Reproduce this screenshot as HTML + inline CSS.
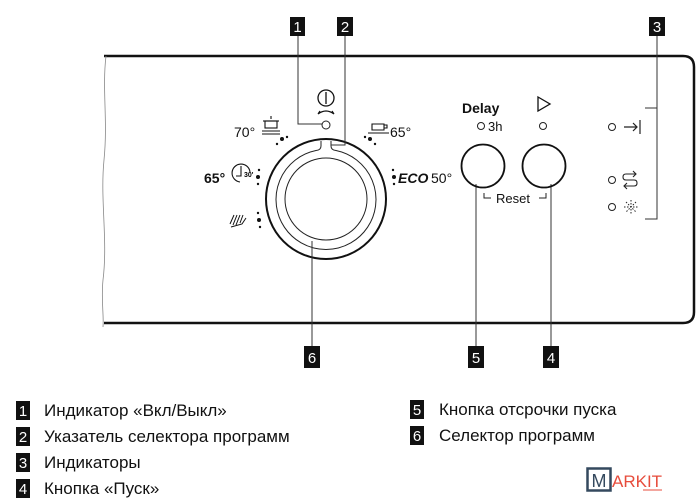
<!DOCTYPE html>
<html><head><meta charset="utf-8"><style>
html,body{margin:0;padding:0;background:#fff;}
svg{display:block}
text{font-family:"Liberation Sans",Arial,sans-serif;}
</style></head><body>
<svg width="700" height="503" viewBox="0 0 700 503" xmlns="http://www.w3.org/2000/svg">
<!-- panel -->
<path d="M104 56 H683 Q694 56 694 67 V312 Q694 323 683 323 H104" fill="none" stroke="#111" stroke-width="2.5"/>
<path d="M106 56 C102 90 108 120 104 160 C100 200 108 240 103 280 C101 300 104 315 103 327" fill="none" stroke="#888" stroke-width="0.8"/>
<!-- dial -->
<circle cx="326" cy="199" r="60" fill="none" stroke="#111" stroke-width="2"/>
<path d="M321 141 V146 Q321 150 316 150.5 A50 50 0 1 0 336 150.5 Q331 150 331 146 V141" fill="none" stroke="#222" stroke-width="1"/>
<circle cx="326" cy="199" r="41" fill="none" stroke="#222" stroke-width="1"/>
<!-- leaders -->
<g stroke="#333" stroke-width="1" fill="none">
<path d="M298 35 V124 H322"/>
<path d="M345 35 V145 H331"/>
<path d="M312 241 V346"/>
<path d="M476 184 V346"/>
<path d="M551 184 V346"/>
<path d="M657 36 V219 H645 M657 108 H645"/>
</g>
<circle cx="326" cy="125" r="4" fill="#fff" stroke="#222" stroke-width="1"/>
<!-- power symbol -->
<circle cx="326" cy="98" r="8" fill="none" stroke="#111" stroke-width="1.3"/>
<line x1="326" y1="92" x2="326" y2="104" stroke="#111" stroke-width="1.3"/>
<path d="M318 114 Q326 108 334 114 M318 114 l2 -3 M334 114 l-2 -3" fill="none" stroke="#111" stroke-width="1.2"/>
<!-- boxes -->
<g font-size="15" fill="#fff" text-anchor="middle">
<rect x="290" y="17" width="15" height="19" fill="#111"/><text x="297.5" y="32">1</text>
<rect x="337" y="17" width="16" height="19" fill="#111"/><text x="345" y="32">2</text>
<rect x="649" y="17" width="16" height="19" fill="#111"/><text x="657" y="32">3</text>
<rect x="304" y="346" width="16" height="22" fill="#111"/><text x="312" y="363">6</text>
<rect x="468" y="346" width="16" height="22" fill="#111"/><text x="476" y="363">5</text>
<rect x="543" y="346" width="16" height="22" fill="#111"/><text x="551" y="363">4</text>
</g>
<!-- dial labels -->
<g font-size="14" fill="#111">
<text x="234" y="137">70°</text>
<text x="390" y="137">65°</text>
<text x="204" y="183" font-weight="bold">65°</text>
<text x="398" y="183" font-weight="bold" font-style="italic">ECO</text>
<text x="431" y="183">50°</text>
</g>
<!-- pot icon -->
<g fill="none" stroke="#111" stroke-width="1.1">
<rect x="265" y="121" width="12" height="7"/><line x1="263" y1="121" x2="279" y2="121"/><line x1="271" y1="116" x2="271" y2="119"/>
<line x1="262" y1="131" x2="280" y2="131"/><line x1="262" y1="134" x2="280" y2="134"/>
<path d="M372 124 h12 v6 h-12 z M384 125 h3 v3 h-3"/><line x1="368" y1="133" x2="389" y2="133"/>
<path d="M250 172 A9 9 0 1 0 240 182" /><path d="M241 166 V176 H236"/>
</g>
<text x="244" y="177" font-size="7" font-weight="bold">30'</text>
<!-- shower -->
<g stroke="#111" stroke-width="1" fill="none">
<path d="M234 215 l-4 9 M237 215 l-4 10 M240 215 l-4 10 M243 215 l-3 8 M231 227 l11 -3 l4 -6"/>
</g>
<!-- dots -->
<g fill="#111">
<circle cx="282" cy="139" r="2"/><circle cx="277" cy="144" r="1.2"/><circle cx="287" cy="137" r="1.2"/>
<circle cx="370" cy="139" r="2"/><circle cx="365" cy="137" r="1.2"/><circle cx="375" cy="144" r="1.2"/>
<circle cx="258" cy="177" r="2"/><circle cx="259" cy="170" r="1.2"/><circle cx="258" cy="184" r="1.2"/>
<circle cx="394" cy="177" r="2"/><circle cx="393" cy="170" r="1.2"/><circle cx="394" cy="184" r="1.2"/>
<circle cx="259" cy="220" r="2"/><circle cx="258" cy="213" r="1.2"/><circle cx="260" cy="227" r="1.2"/>
</g>
<!-- buttons -->
<circle cx="483" cy="166" r="21.5" fill="none" stroke="#111" stroke-width="1.8"/>
<circle cx="544" cy="166" r="21.5" fill="none" stroke="#111" stroke-width="1.8"/>
<text x="462" y="113" font-size="14" font-weight="bold" fill="#111">Delay</text>
<circle cx="481" cy="126" r="3.5" fill="none" stroke="#222"/>
<text x="488" y="131" font-size="13" fill="#111">3h</text>
<path d="M538 97 L550 104 L538 111 Z" fill="none" stroke="#111" stroke-width="1.3"/>
<circle cx="543" cy="126" r="3.5" fill="none" stroke="#222"/>
<path d="M484 193 v5 h7 M546 193 v5 h-7" fill="none" stroke="#222"/>
<text x="496" y="203" font-size="13" fill="#111">Reset</text>
<!-- right indicators -->
<g fill="none" stroke="#222">
<circle cx="612" cy="127" r="3.5"/><circle cx="612" cy="180" r="3.5"/><circle cx="612" cy="207" r="3.5"/>
<path d="M624 127 h13 M633 123 l4 4 l-4 4 M640 120 v14" stroke-width="1.2"/>
<path d="M636 174 h-10 q-3 0 -3 3 q0 3 3 3 h8 q3 0 3 3 q0 3 -3 3 h-10 M633 171 l3 3 l-3 3 M627 183 l-3 3 l3 3" stroke-width="1.1"/>
<path d="M631 200 v14 M624 207 h14 M626 202 l10 10 M636 202 l-10 10" stroke-width="1" stroke-dasharray="1.5 1.5"/>
</g>
<!-- legend -->
<g font-size="15" fill="#fff" text-anchor="middle">
<rect x="16" y="401" width="14" height="19" fill="#111"/><text x="23" y="416">1</text>
<rect x="16" y="427" width="14" height="19" fill="#111"/><text x="23" y="442">2</text>
<rect x="16" y="453" width="14" height="19" fill="#111"/><text x="23" y="468">3</text>
<rect x="16" y="479" width="14" height="19" fill="#111"/><text x="23" y="494">4</text>
<rect x="410" y="400" width="14" height="19" fill="#111"/><text x="417" y="415">5</text>
<rect x="410" y="426" width="14" height="19" fill="#111"/><text x="417" y="441">6</text>
</g>
<g font-size="17" fill="#111">
<text x="44" y="416">Индикатор «Вкл/Выкл»</text>
<text x="44" y="442">Указатель селектора программ</text>
<text x="44" y="468">Индикаторы</text>
<text x="44" y="494">Кнопка «Пуск»</text>
<text x="439" y="415">Кнопка отсрочки пуска</text>
<text x="439" y="441">Селектор программ</text>
</g>
<!-- logo -->
<rect x="587.5" y="468.5" width="23" height="22" fill="none" stroke="#34495e" stroke-width="2.5"/>
<text x="599" y="487" font-size="18" fill="#34495e" text-anchor="middle">M</text>
<text x="612" y="487" font-size="17" fill="#e74c3c">ARKIT</text>
<line x1="643" y1="490" x2="662" y2="490" stroke="#e74c3c" stroke-width="1"/>
</svg>
</body></html>
